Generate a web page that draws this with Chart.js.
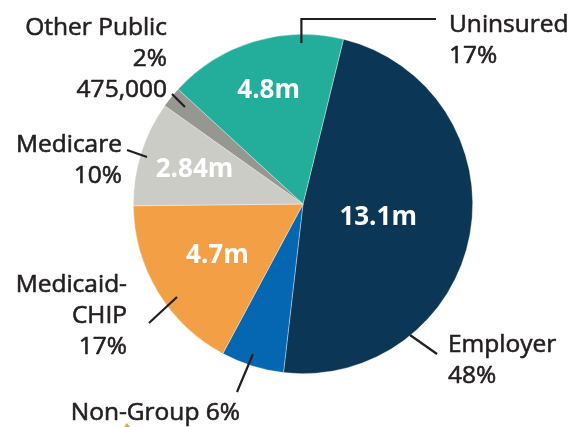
<!DOCTYPE html>
<html>
<head>
<meta charset="utf-8">
<script src="https://cdn.jsdelivr.net/npm/chart.js@4/dist/chart.umd.min.js"></script>
<style>
html,body{margin:0;padding:0;background:#fff;}
#wrap{position:relative;width:587px;height:427px;}
</style>
</head>
<body>
<div id="wrap"><canvas id="c" width="587" height="427"></canvas></div>
<script>
// ---- data ----
const categories = ["Employer", "Non-Group", "Medicaid-CHIP", "Medicare", "Other Public", "Uninsured"];
const sharePct = [48, 6, 17, 10, 2, 17];
const enrollment = ["13.1m", "", "4.7m", "2.84m", "475,000", "4.8m"];

// ---- styles / layout ----
const colors = ["#0b3655", "#0567b1", "#f29f45", "#ccccc7", "#979792", "#23ae9b"];
// inner value label: radius fraction along the slice mid-angle
const innerFrac = [0.45, 0, 0.59, 0.67, 0, 0.70];
// outer label text lines, anchor (dx,dy from pie centre), alignment
const outerLabels = [
  {lines:["Employer","48%"], dx:145, dy:148, align:"left"},
  {lines:["Non-Group 6%"], dx:-63, dy:216, align:"right"},
  {lines:["Medicaid-","CHIP","17%"], dx:-176, dy:88, align:"right"},
  {lines:["Medicare","10%"], dx:-181, dy:-52, align:"right"},
  {lines:["Other Public","2%","475,000"], dx:-136, dy:-169, align:"right"},
  {lines:["Uninsured","17%"], dx:146, dy:-172, align:"left"}
];
// leader lines as offsets from centre (polyline points)
const leaders = [
  [[107,131],[134,150]],
  [[-50,150],[-66,188]],
  [[-126,93],[-154,119]],
  [[-156,-47],[-176,-54]],
  [[-118,-97],[-131,-110]],
  [[-1.6,-161],[-1.6,-185],[133,-185]]
];
const FONT = "'Open Sans', 'Noto Sans', sans-serif";

const labelPlugin = {
  id: 'labels',
  afterDatasetsDraw(chart) {
    const ctx = chart.ctx;
    const meta = chart.getDatasetMeta(0);
    const a0 = meta.data[0];
    const cx = a0.x, cy = a0.y, R = a0.outerRadius;
    ctx.save();
    // inner labels
    ctx.fillStyle = "#ffffff";
    ctx.font = "bold 26px " + FONT;
    ctx.textAlign = "center";
    ctx.textBaseline = "middle";
    meta.data.forEach((arc, i) => {
      if (!innerFrac[i] || !enrollment[i]) return;
      const p = arc.getProps(['startAngle','endAngle'], true);
      const mid = (p.startAngle + p.endAngle) / 2;
      const r = R * innerFrac[i];
      ctx.fillText(enrollment[i], cx + Math.cos(mid) * r, cy + Math.sin(mid) * r);
    });
    // leader lines
    ctx.strokeStyle = "#231f20";
    ctx.lineWidth = 2.2;
    leaders.forEach(pts => {
      ctx.beginPath();
      pts.forEach((q, k) => {
        if (k === 0) ctx.moveTo(cx + q[0], cy + q[1]); else ctx.lineTo(cx + q[0], cy + q[1]);
      });
      ctx.stroke();
    });
    // outer labels
    ctx.fillStyle = "#231f20";
    ctx.font = "24.5px " + FONT;
    ctx.textBaseline = "alphabetic";
    ctx.lineWidth = 0.6;
    ctx.lineJoin = "round";
    outerLabels.forEach(l => {
      ctx.textAlign = l.align;
      l.lines.forEach((t, k) => {
        ctx.fillText(t, cx + l.dx, cy + l.dy + k * 31);
        ctx.strokeText(t, cx + l.dx, cy + l.dy + k * 31);
      });
    });
    // small orange marker
    ctx.fillStyle = "#f29f45";
    ctx.beginPath();
    ctx.moveTo(cx - 176, cy + 219);
    ctx.lineTo(cx - 179, cy + 223);
    ctx.lineTo(cx - 173, cy + 223);
    ctx.closePath();
    ctx.fill();
    ctx.restore();
  }
};

new Chart(document.getElementById('c'), {
  type: 'pie',
  data: {
    labels: categories,
    datasets: [{
      data: sharePct,
      backgroundColor: colors,
      borderWidth: 0.6,
      borderColor: "rgba(255,255,255,0.6)"
    }]
  },
  options: {
    responsive: false,
    animation: false,
    rotation: 13.8,
    layout: { padding: { left: 133, right: 114, top: 34, bottom: 53 } },
    plugins: { legend: { display: false }, tooltip: { enabled: false } }
  },
  plugins: [labelPlugin]
});
</script>
</body>
</html>
